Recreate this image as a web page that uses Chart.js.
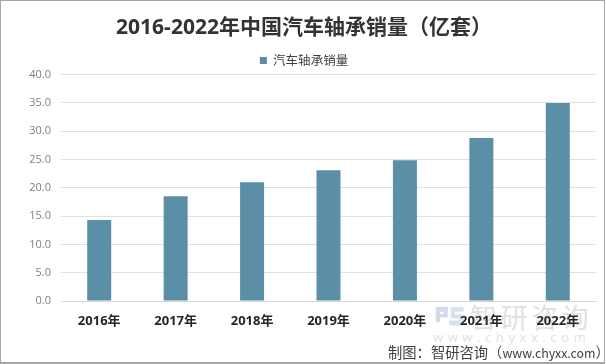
<!DOCTYPE html>
<html>
<head>
<meta charset="utf-8">
<script src="https://cdn.jsdelivr.net/npm/chart.js@4"></script>
<style>
    html, body { margin: 0; padding: 0; background: #fff; }
    #frame { position: relative; width: 606px; height: 364px; overflow: hidden; font-family: "Noto Sans CJK SC", sans-serif; }
    #frame canvas { position: absolute; left: 0; top: 0; }
    #edge { position: absolute; left: 0; top: 0; width: 603px; height: 361px; border: 1px solid #a6a6a6; border-width: 1px 1px 2px 1px; }
    .mark { position: absolute; color: #dfe1e4; white-space: nowrap; }
    #logo { position: absolute; left: 435px; top: 305px; }
    #credit { position: absolute; left: 388px; top: 342px; font-size: 14.3px; line-height: 20px; color: #404040; white-space: nowrap; }
    #credit span { font-size: 12.4px; }
</style>
</head>
<body>
<div id="frame">
    <svg id="logo" width="30" height="25" viewBox="0 0 42 26" preserveAspectRatio="none">
        <path d="M1 2h17v11H7v5H1zM7 7v2h5V7z" fill="#d5dae8"/>
        <path d="M22 2h18v5H28v3h12v11H20v-5h14v-2H22z" fill="#d3e3f2"/>
    </svg>
    <div class="mark" style="left:470px;top:299px;font-size:27px;line-height:36px;letter-spacing:3.5px;">智研咨询</div>
    <div class="mark" style="left:433px;top:330px;font-size:13px;line-height:14px;letter-spacing:4.6px;font-family:'Open Sans';">www.chyxx.com</div>
    <canvas id="chart" width="606" height="364"></canvas>
    <div id="credit">制图：智研咨询（<span>www.chyxx.com</span>）</div>
    <div id="edge"></div>
</div>
<script>
var categories = ['2016年', '2017年', '2018年', '2019年', '2020年', '2021年', '2022年'];
var salesValues = [14.3, 18.5, 21.0, 23.1, 24.9, 28.8, 35.0];
var seriesName = '汽车轴承销量';
var chartTitle = '2016-2022年中国汽车轴承销量（亿套）';

(function () {
    var cjk = '"Open Sans", "Noto Sans CJK SC", sans-serif';
    // title and legend sit a little right of centre in the original
    var nudgeHeader = {
        id: 'nudgeHeader',
        afterLayout: function (chart) {
            chart.legend.left += 6;
            chart.legend.right += 6;
            chart.legend.top += 2;
            chart.titleBlock.left += 6;
            chart.titleBlock.right += 6;
        },
    };
    new Chart(document.getElementById('chart'), {
        type: 'bar',
        data: {
            labels: categories,
            datasets: [
                {
                    label: seriesName,
                    data: salesValues,
                    backgroundColor: '#5b8fa8',
                    categoryPercentage: 1,
                    barPercentage: 0.314,
                },
            ],
        },
        plugins: [nudgeHeader],
        options: {
            responsive: false,
            animation: false,
            layout: { padding: { left: 0, right: 10, top: 12, bottom: 0 } },
            plugins: {
                tooltip: { enabled: false },
                title: {
                    display: true,
                    text: chartTitle,
                    color: '#333333',
                    font: { family: cjk, size: 21, weight: 'bold' },
                    padding: { top: 3, bottom: 11 },
                },
                legend: {
                    display: true,
                    position: 'top',
                    labels: {
                        boxWidth: 7,
                        boxHeight: 7,
                        padding: 1,
                        color: '#404040',
                        font: { family: '"Noto Sans CJK SC", sans-serif', size: 12.5 },
                    },
                },
            },
            scales: {
                x: {
                    grid: { display: false },
                    border: { color: '#d9d9d9' },
                    afterFit: function (axis) {
                        axis.height = 63;
                    },
                    ticks: {
                        color: '#262626',
                        padding: 4,
                        maxRotation: 0,
                        font: { family: cjk, size: 13, weight: 'bold' },
                    },
                },
                y: {
                    min: 0,
                    max: 40,
                    afterFit: function (axis) {
                        axis.width = 61;
                    },
                    grid: { color: '#e0e0e0', tickLength: 0 },
                    border: { display: false },
                    ticks: {
                        stepSize: 5,
                        color: '#7f7f7f',
                        padding: 10,
                        font: { family: '"Open Sans", sans-serif', size: 11 },
                        callback: function (v) {
                            return v.toFixed(1);
                        },
                    },
                },
            },
        },
    });
})();
</script>
</body>
</html>
